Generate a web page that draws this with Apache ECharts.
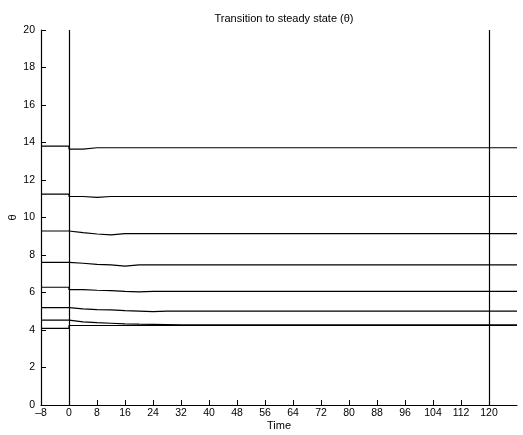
<!DOCTYPE html>
<html>
<head>
<meta charset="utf-8">
<script src="https://cdn.jsdelivr.net/npm/echarts@6/dist/echarts.min.js"></script>
<style>html,body{margin:0;padding:0;background:#fff;}#c{width:523px;height:435px;}</style>
</head>
<body>
<div id="c"></div>
<script>
// Time points (step boundaries); first is pre-transition start, last is end of run
var times = [-8, 0, 4, 8, 12, 16, 20, 24, 28, 32, 128];
var theta1 = [13.81, 13.65, 13.72, 13.72, 13.72, 13.72, 13.72, 13.72, 13.72, 13.72, 13.72];
var theta2 = [11.25, 11.12, 11.07, 11.12, 11.12, 11.12, 11.12, 11.12, 11.12, 11.12, 11.12];
var theta3 = [9.28, 9.19, 9.12, 9.07, 9.14, 9.14, 9.14, 9.14, 9.14, 9.14, 9.14];
var theta4 = [7.61, 7.56, 7.50, 7.47, 7.41, 7.47, 7.47, 7.47, 7.47, 7.47, 7.47];
var theta5 = [6.28, 6.15, 6.12, 6.10, 6.06, 6.03, 6.06, 6.06, 6.06, 6.06, 6.06];
var theta6 = [5.19, 5.13, 5.09, 5.07, 5.03, 5.01, 4.98, 5.01, 5.01, 5.01, 5.01];
var theta7 = [4.53, 4.43, 4.39, 4.36, 4.33, 4.31, 4.30, 4.29, 4.28, 4.28, 4.28];
var theta8 = [4.09, 4.24, 4.24, 4.24, 4.24, 4.24, 4.24, 4.24, 4.24, 4.24, 4.24];
var xTicks = [-8, 0, 8, 16, 24, 32, 40, 48, 56, 64, 72, 80, 88, 96, 104, 112, 120];
var markTimes = [0, 120];

var allSeries = [theta1, theta2, theta3, theta4, theta5, theta6, theta7, theta8];
var font = 'Liberation Sans, Arial, sans-serif';

// Build a held-value (stairs) path from the time/value arrays
function stairs(vals) {
  var pts = [];
  for (var k = 0; k < times.length - 1; k++) {
    pts.push([times[k], vals[k]]);
    pts.push([times[k + 1], vals[k]]);
  }
  return pts;
}

var series = allSeries.map(function (vals, i) {
  var s = {
    type: 'line', symbol: 'none', silent: true,
    lineStyle: { color: '#000', width: 1.2 },
    data: stairs(vals)
  };
  if (i === 0) {
    s.markLine = {
      silent: true, symbol: 'none', label: { show: false },
      lineStyle: { color: '#000', width: 1.2, type: 'solid' },
      data: markTimes.map(function (t) { return { xAxis: t }; })
    };
  }
  return s;
});

var chart = echarts.init(document.getElementById('c'));
chart.setOption({
  animation: false,
  backgroundColor: '#fff',
  title: {
    text: 'Transition to steady state (\u03b8)', left: 279, top: 8, textAlign: 'center',
    textStyle: { fontFamily: font, fontSize: 11, fontWeight: 'normal', color: '#000' }
  },
  grid: { left: 41, right: 6, top: 30, bottom: 30, containLabel: false, outerBoundsMode: 'none' },
  xAxis: {
    type: 'value', min: -8, max: 128,
    name: 'Time', nameLocation: 'middle', nameGap: 15, nameMoveOverlap: false,
    nameTextStyle: { fontFamily: font, fontSize: 11, color: '#000' },
    splitLine: { show: false },
    axisLine: { onZero: false, lineStyle: { color: '#000', width: 1.2 } },
    axisTick: { inside: true, length: 5, customValues: xTicks, lineStyle: { color: '#000' } },
    axisLabel: { customValues: xTicks, margin: 3, fontFamily: font, fontSize: 10.5, color: '#000',
      formatter: function (v) { return v < 0 ? '\u2013' + Math.abs(v) : String(v); } }
  },
  yAxis: {
    type: 'value', min: 0, max: 20, interval: 2,
    name: '\u03b8', nameLocation: 'middle', nameGap: 23, nameRotate: 90, nameMoveOverlap: false,
    nameTextStyle: { fontFamily: font, fontSize: 11, color: '#000' },
    splitLine: { show: false },
    axisLine: { show: true, onZero: false, lineStyle: { color: '#000', width: 1.2 } },
    axisTick: { show: true, inside: true, length: 5, lineStyle: { color: '#000' } },
    axisLabel: { margin: 6, fontFamily: font, fontSize: 10.5, color: '#000' }
  },
  series: series
});
</script>
</body>
</html>
